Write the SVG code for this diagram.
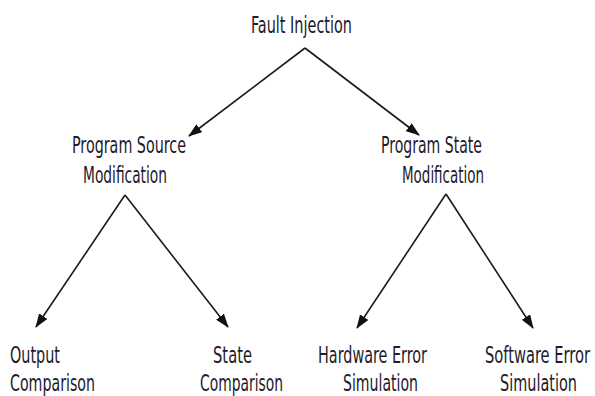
<svg xmlns="http://www.w3.org/2000/svg" width="595" height="396" viewBox="0 0 595 396">
<defs>
<style>
.t{font-family:"DejaVu Sans Condensed","Liberation Sans",Arial,sans-serif;font-size:22.5px;fill:#241a2a;}
.c{stroke:#1a1a1a;stroke-width:1.6;fill:none;marker-end:url(#ah);}
</style>
<marker id="ah" viewBox="0 0 14 10" refX="13" refY="5" markerWidth="14" markerHeight="10" markerUnits="userSpaceOnUse" orient="auto">
<path d="M0,0 L14,5 L0,10 Z" fill="#111"/>
</marker>
</defs>
<rect width="595" height="396" fill="#fff"/>
<g id="connectors">
<line class="c" x1="305" y1="48" x2="189" y2="136"/>
<line class="c" x1="305" y1="48" x2="419" y2="135"/>
<line class="c" x1="125" y1="195" x2="36" y2="327"/>
<line class="c" x1="125" y1="195" x2="228" y2="327"/>
<line class="c" x1="446" y1="194" x2="357" y2="328"/>
<line class="c" x1="446" y1="194" x2="533" y2="328"/>
</g>
<g id="fault-injection">
<text class="t" x="251" y="33" textLength="101" lengthAdjust="spacingAndGlyphs">Fault Injection</text>
</g>
<g id="program-source-modification">
<text class="t" x="72" y="153" textLength="114" lengthAdjust="spacingAndGlyphs">Program Source</text>
<text class="t" x="83" y="183" textLength="84" lengthAdjust="spacingAndGlyphs">Modification</text>
</g>
<g id="program-state-modification">
<text class="t" x="381" y="153" textLength="101" lengthAdjust="spacingAndGlyphs">Program State</text>
<text class="t" x="402" y="183" textLength="82" lengthAdjust="spacingAndGlyphs">Modification</text>
</g>
<g id="output-comparison">
<text class="t" x="10" y="363" textLength="50" lengthAdjust="spacingAndGlyphs">Output</text>
<text class="t" x="10" y="391" textLength="85" lengthAdjust="spacingAndGlyphs">Comparison</text>
</g>
<g id="state-comparison">
<text class="t" x="213" y="363" textLength="39" lengthAdjust="spacingAndGlyphs">State</text>
<text class="t" x="200" y="391" textLength="83" lengthAdjust="spacingAndGlyphs">Comparison</text>
</g>
<g id="hardware-error-simulation">
<text class="t" x="318" y="363" textLength="109" lengthAdjust="spacingAndGlyphs">Hardware Error</text>
<text class="t" x="343" y="391" textLength="75" lengthAdjust="spacingAndGlyphs">Simulation</text>
</g>
<g id="software-error-simulation">
<text class="t" transform="translate(485,363) scale(0.7,1)" x="0" y="0" textLength="150" lengthAdjust="spacingAndGlyphs">Software Error</text>
<text class="t" transform="translate(500,391) scale(0.7,1)" x="0" y="0" textLength="110" lengthAdjust="spacingAndGlyphs">Simulation</text>
</g>
</svg>
